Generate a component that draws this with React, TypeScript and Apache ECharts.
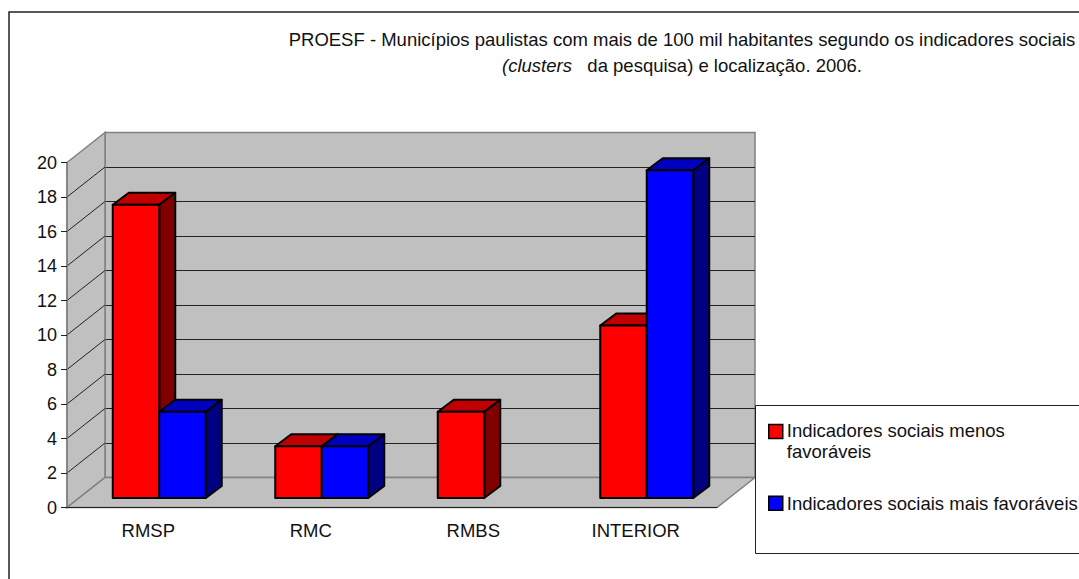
import React, { useEffect, useRef } from "react";
import * as echarts from "echarts";

const categories = ["RMSP", "RMC", "RMBS", "INTERIOR"];
const lessFavourable = [17, 3, 5, 10];
const moreFavourable = [5, 3, null, 19];
const seriesNames = ["Indicadores sociais menos favoráveis", "Indicadores sociais mais favoráveis"];
const yTicks = [0, 2, 4, 6, 8, 10, 12, 14, 16, 18, 20];

const FONT = "Liberation Sans";
const GRID = { left: 67, top: 162.5, width: 650, height: 345 };
const WALL_DX = 38;
const WALL_DY = 30;
const BAR_W = 46.5;
const BAR_SHIFT_X = 11;
const BAR_SHIFT_Y = 9.5;
const BAR_DX = 16;
const BAR_DY = 12;

const barRenderer = (side: 0 | 1, front: string, top: string, right: string) => (params: any, api: any) => {
  const cat = api.value(0);
  const val = api.value(1);
  if (val === null || val === undefined || isNaN(val)) return null;
  const p = api.coord([cat, val]);
  const b = api.coord([cat, 0]);
  const x0 = p[0] + BAR_SHIFT_X + (side === 0 ? -BAR_W : 0);
  const x1 = x0 + BAR_W;
  const yt = p[1] - BAR_SHIFT_Y;
  const yb = b[1] - BAR_SHIFT_Y;
  const st = { stroke: "#000", lineWidth: 2, lineJoin: "round" };
  return {
    type: "group",
    children: [
      { type: "polygon", shape: { points: [[x0, yt], [x0 + BAR_DX, yt - BAR_DY], [x1 + BAR_DX, yt - BAR_DY], [x1, yt]] }, style: { fill: top, ...st } },
      { type: "polygon", shape: { points: [[x1, yt], [x1 + BAR_DX, yt - BAR_DY], [x1 + BAR_DX, yb - BAR_DY], [x1, yb]] }, style: { fill: right, ...st } },
      { type: "rect", shape: { x: x0, y: yt, width: BAR_W, height: yb - yt }, style: { fill: front, ...st } },
    ],
  };
};

const wallRenderer = (params: any, api: any) => {
  const v = api.value(0);
  const p0 = api.coord([0, v]);
  const x = GRID.left;
  const y = p0[1];
  const children: any[] = [];
  if (params.dataIndex === 0) {
    const bottom = api.coord([0, 0])[1];
    const topY = api.coord([0, 20])[1];
    const xr = GRID.left + GRID.width;
    const st = { fill: "#c0c0c0", stroke: "#808080", lineWidth: 1.5 };
    children.push(
      { type: "polygon", shape: { points: [[x, topY], [x + WALL_DX, topY - WALL_DY], [x + WALL_DX, bottom - WALL_DY], [x, bottom]] }, style: st },
      { type: "polygon", shape: { points: [[x, bottom], [x + WALL_DX, bottom - WALL_DY], [xr + WALL_DX, bottom - WALL_DY], [xr, bottom]] }, style: st }
    );
  } else if (v < 20) {
    children.push({
      type: "line",
      shape: { x1: x, y1: y, x2: x + WALL_DX, y2: y - WALL_DY },
      style: { stroke: "#222", lineWidth: 1 },
    });
  }
  return { type: "group", children };
};

export default function App() {
  const ref = useRef<HTMLDivElement>(null);
  useEffect(() => {
    const chart = echarts.init(ref.current!, null, { renderer: "svg" });
    chart.setOption({
      animation: false,
      backgroundColor: "#fff",
      textStyle: { fontFamily: FONT },
      title: {
        text: "{a|PROESF - Municípios paulistas com mais de 100 mil habitantes segundo os indicadores sociais}\n{i|(clusters}{a|   da pesquisa) e localização. 2006.}",
        left: 682,
        top: 26,
        textAlign: "center",
        padding: 0,
        textStyle: {
          fontWeight: "normal",
          rich: {
            a: { fontFamily: FONT, fontSize: 18.5, fontWeight: "normal", color: "#111", lineHeight: 26 },
            i: { fontFamily: FONT, fontSize: 18.5, fontWeight: "normal", fontStyle: "italic", color: "#111", lineHeight: 26 },
          },
        },
      },
      legend: {
        orient: "vertical",
        left: 768,
        top: 420,
        padding: 0,
        z: 30,
        itemWidth: 14,
        itemHeight: 33,
        itemGap: 24,
        selectedMode: false,
        formatter: (n: string) => n.replace("menos ", "menos\n"),
        textStyle: { fontFamily: FONT, fontSize: 18.5, color: "#111", lineHeight: 21, padding: [0, 0, 0, -1] },
        data: [
          { name: seriesNames[0], icon: "path://M0 0H14V14H0Z M0 33", itemStyle: { color: "#ff0000", borderColor: "#000", borderWidth: 1.5 } },
          { name: seriesNames[1], icon: "path://M0 0 M0 9.5H14V23.5H0Z M0 33", itemStyle: { color: "#0000ff", borderColor: "#000", borderWidth: 1.5 } },
        ],
      },
      graphic: [
        { type: "rect", silent: true, z: -10, shape: { x: 9, y: 12, width: 1200, height: 700 }, style: { fill: "#fff", stroke: "#222", lineWidth: 1.5 } },
        { type: "rect", silent: true, z: 20, shape: { x: 755.5, y: 405.5, width: 500, height: 148 }, style: { fill: "#fff", stroke: "#222", lineWidth: 1 } },
      ],
      grid: [
        { ...GRID, containLabel: false },
        {
          left: GRID.left + WALL_DX,
          top: GRID.top - WALL_DY,
          width: GRID.width,
          height: GRID.height,
          show: true,
          backgroundColor: "#c0c0c0",
          borderColor: "#808080",
          borderWidth: 1.5,
        },
      ],
      xAxis: [
        {
          type: "category",
          gridIndex: 0,
          data: categories,
          z: 10,
          axisLine: { lineStyle: { color: "#222", width: 1 } },
          axisTick: { length: 6, alignWithLabel: false, lineStyle: { color: "#222" } },
          axisLabel: { fontFamily: FONT, fontSize: 18.5, color: "#111", margin: 13 },
          splitLine: { show: false },
        },
        { type: "category", gridIndex: 1, data: categories, show: false },
      ],
      yAxis: [
        {
          type: "value",
          gridIndex: 0,
          min: 0,
          max: 20,
          interval: 2,
          z: 10,
          axisLine: { show: true, lineStyle: { color: "#808080", width: 1.5 } },
          axisTick: { show: true, length: 6, lineStyle: { color: "#222" } },
          axisLabel: { fontFamily: FONT, fontSize: 18, color: "#111", margin: 10 },
          splitLine: { show: false },
        },
        {
          type: "value",
          gridIndex: 1,
          min: 0,
          max: 20,
          interval: 2,
          axisLine: { show: false },
          axisTick: { show: false },
          axisLabel: { show: false },
          splitLine: { show: true, showMinLine: false, showMaxLine: false, lineStyle: { color: "#222", width: 1 } },
        },
      ],
      series: [
        {
          type: "custom",
          name: "walls",
          xAxisIndex: 0,
          yAxisIndex: 0,
          z: 1,
          silent: true,
          clip: false,
          data: yTicks.map((t) => [t]),
          encode: { y: 0 },
          renderItem: wallRenderer,
        },
        {
          type: "custom",
          name: seriesNames[0],
          xAxisIndex: 0,
          yAxisIndex: 0,
          z: 2,
          clip: false,
          itemStyle: { color: "#ff0000" },
          data: lessFavourable.map((v, i) => [i, v]),
          encode: { x: 0, y: 1 },
          renderItem: barRenderer(0, "#ff0000", "#c00000", "#800000"),
        },
        {
          type: "custom",
          name: seriesNames[1],
          xAxisIndex: 0,
          yAxisIndex: 0,
          z: 3,
          clip: false,
          itemStyle: { color: "#0000ff" },
          data: moreFavourable.map((v, i) => [i, v]),
          encode: { x: 0, y: 1 },
          renderItem: barRenderer(1, "#0000ff", "#0000c0", "#000080"),
        },
      ],
    });
    return () => chart.dispose();
  }, []);
  return <div ref={ref} style={{ position: "fixed", left: 0, top: 0, width: 1079, height: 579 }} />;
}
